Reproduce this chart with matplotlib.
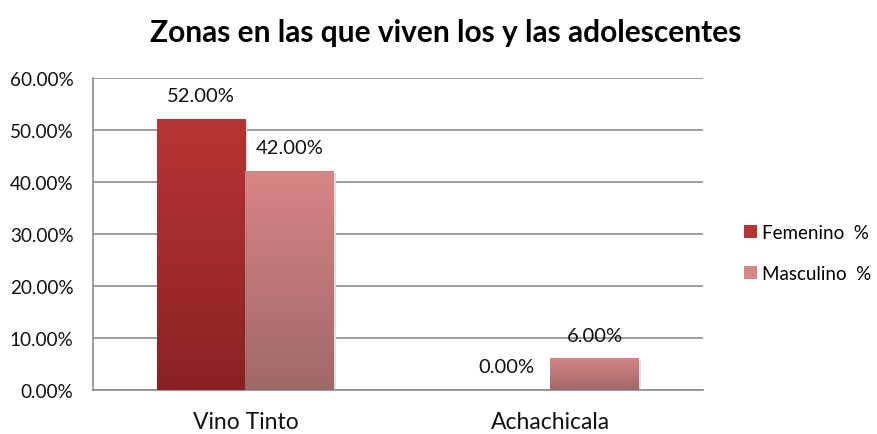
import numpy as np
import matplotlib.pyplot as plt
from matplotlib.colors import LinearSegmentedColormap
from matplotlib.patches import Patch

categories = ['Vino Tinto', 'Achachicala']
femenino = [52.0, 0.0]
masculino = [42.0, 6.0]
series_names = ['Femenino  %', 'Masculino  %']
y_ticks = [0, 10, 20, 30, 40, 50, 60]

plt.rcParams['font.family'] = ['Lato', 'DejaVu Sans']

fig = plt.figure(figsize=(8.78, 4.35), dpi=100)
ax = fig.add_axes([93 / 878, 1 - 391 / 435, 610 / 878, 312 / 435])

width = 0.29
x = np.arange(len(categories))
grads = [('#b93434', '#8a2222'), ('#d88585', '#a06868')]
grad = np.linspace(0, 1, 100).reshape(-1, 1)

for offset, vals, (top, bottom), name in [(-width / 2, femenino, grads[0], series_names[0]),
                                           (width / 2, masculino, grads[1], series_names[1])]:
    cmap = LinearSegmentedColormap.from_list(name, [bottom, top])
    for xi, v in zip(x, vals):
        if v > 0:
            ax.imshow(grad, cmap=cmap, aspect='auto', origin='lower',
                      extent=[xi + offset - width / 2, xi + offset + width / 2, 0, v], zorder=3)
            # faint shadow
            ax.bar(xi + offset + 0.006, v, width, bottom=-0.3, color='#e0e0e0', zorder=2)
        ax.annotate(f'{v:.2f}%', (xi + offset, v), xytext=(0, 11), textcoords='offset points',
                    ha='center', va='bottom', fontsize=14.5, color='#111111')

ax.set_xlim(-0.5, 1.5)
ax.set_ylim(0, 60)
ax.set_yticks(y_ticks)
ax.set_yticklabels([f'{t:.2f}%' for t in y_ticks], fontsize=13.6)
ax.set_xticks(x)
ax.set_xticklabels(categories, fontsize=16.5)
ax.tick_params(axis='both', length=0, colors='#111111')
ax.tick_params(axis='y', pad=14)
ax.tick_params(axis='x', pad=15)
ax.grid(axis='y', color='#8c8c8c', linewidth=1.2, zorder=1)
for s in ['top', 'right']:
    ax.spines[s].set_visible(False)
for s in ['left', 'bottom']:
    ax.spines[s].set_color('#8c8c8c')
    ax.spines[s].set_linewidth(1.2)

fig.text(0.508, 1 - 33 / 435, 'Zonas en las que viven los y las adolescentes',
         ha='center', va='center', fontsize=21.5, fontweight='bold', color='#000000')

handles = [Patch(facecolor=grads[0][0], edgecolor='none'), Patch(facecolor=grads[1][0], edgecolor='none')]
fig.legend(handles, series_names, loc='center left', bbox_to_anchor=(729 / 878, 1 - 254 / 435),
           frameon=False, fontsize=13.5, handlelength=0.7, handleheight=0.7,
           handletextpad=0.25, labelspacing=1.3, borderpad=0.3)

fig.savefig('out.png', dpi=100)
